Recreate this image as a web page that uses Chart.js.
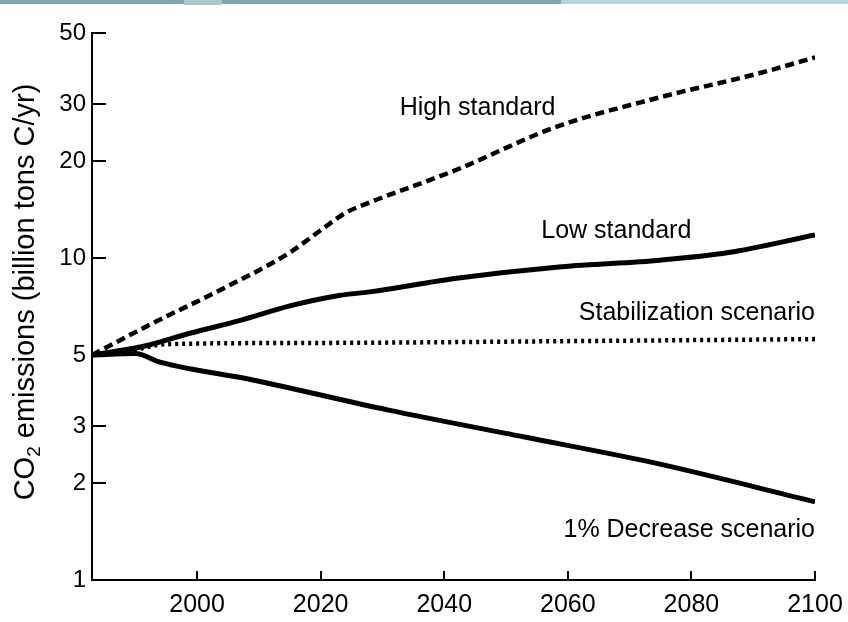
<!DOCTYPE html>
<html>
<head>
<meta charset="utf-8">
<title>CO2 emission scenarios</title>
<script src="https://cdn.jsdelivr.net/npm/chart.js@4.4.1/dist/chart.umd.min.js"></script>
<style>
  html, body { margin: 0; padding: 0; background: #ffffff; }
  #wrap { position: relative; width: 848px; height: 622px; overflow: hidden; }
  #bar-dark { position: absolute; left: 0; top: 0; width: 561px; height: 4px; background: #7aa9ad; z-index: 2; }
  #bar-light { position: absolute; left: 561px; top: 0; width: 287px; height: 4px; background: #b8d4d6; z-index: 2; }
  #bar-notch { position: absolute; left: 184px; top: 0; width: 38px; height: 5px; background: #a9c9cb; z-index: 3; }
  canvas { position: absolute; left: 0; top: 0; }
</style>
</head>
<body>
<div id="wrap">
  <div id="bar-dark"></div>
  <div id="bar-light"></div>
  <div id="bar-notch"></div>
  <canvas id="chart" width="848" height="622"></canvas>
</div>
<script>
// Emission scenarios, billion tons of carbon per year
const highYears = [1983, 1993, 2004, 2015, 2020, 2024, 2028, 2042, 2058, 2075, 2091, 2100];
const highValues = [5.0, 6.3, 8.0, 10.4, 12.2, 13.8, 14.9, 18.8, 25.5, 31.6, 37.5, 42.0];

const lowYears = [1983, 1991, 1999, 2007, 2015, 2023, 2028, 2042, 2059, 2075, 2086, 2100];
const lowValues = [5.0, 5.3, 5.85, 6.4, 7.1, 7.65, 7.85, 8.65, 9.4, 9.85, 10.4, 11.8];

const stabYears = [1983, 1990, 1995, 2020, 2060, 2100];
const stabValues = [5.0, 5.2, 5.4, 5.45, 5.52, 5.6];

const decYears = [1983, 1990, 1994, 2009, 2031, 2053, 2074, 2100];
const decValues = [5.0, 5.05, 4.75, 4.18, 3.37, 2.78, 2.31, 1.75];

const xTicks = [2000, 2020, 2040, 2060, 2080, 2100];
const yTicks = [1, 2, 3, 5, 10, 20, 30, 50];

const seriesNames = ['High standard', 'Low standard', 'Stabilization scenario', '1% Decrease scenario'];

const FONT = "'Liberation Sans', Arial, Helvetica, sans-serif";

function toPoints(xs, ys) {
  return xs.map((x, i) => ({ x: x, y: ys[i] }));
}

// Scenario names are written beside their curves, anchored in data space
const curveLabels = [
  { text: seriesNames[0], x: 2032.8, y: 29.2, align: 'left' },
  { text: seriesNames[1], x: 2055.7, y: 12.1, align: 'left' },
  { text: seriesNames[2], x: 2100, y: 6.75, align: 'right' },
  { text: seriesNames[3], x: 2100, y: 1.43, align: 'right' }
];

const curveLabelPlugin = {
  id: 'curveLabels',
  afterDatasetsDraw(chart) {
    const { ctx, scales } = chart;
    ctx.save();
    ctx.fillStyle = '#000';
    ctx.font = '25px ' + FONT;
    ctx.textBaseline = 'middle';
    curveLabels.forEach(l => {
      ctx.textAlign = l.align;
      ctx.fillText(l.text, scales.x.getPixelForValue(l.x), scales.y.getPixelForValue(l.y));
    });
    ctx.restore();
  }
};

// Vertical axis title with a real subscript in CO₂
const axisTitlePlugin = {
  id: 'axisTitle',
  afterDraw(chart) {
    const { ctx } = chart;
    const big = 29, small = 19;
    const parts = [
      { t: 'CO', size: big, dy: 0 },
      { t: '2', size: small, dy: 6 },
      { t: ' emissions (billion tons C/yr)', size: big, dy: 0 }
    ];
    ctx.save();
    let total = 0;
    parts.forEach(p => { ctx.font = p.size + 'px ' + FONT; p.w = ctx.measureText(p.t).width; total += p.w; });
    ctx.translate(34, 292);
    ctx.rotate(-Math.PI / 2);
    ctx.fillStyle = '#000';
    ctx.textBaseline = 'alphabetic';
    ctx.textAlign = 'left';
    let x = -total / 2;
    parts.forEach(p => {
      ctx.font = p.size + 'px ' + FONT;
      ctx.fillText(p.t, x, p.dy);
      x += p.w;
    });
    ctx.restore();
  }
};

// Tick marks point inward from the axis lines
const inwardTicksPlugin = {
  id: 'inwardTicks',
  afterDraw(chart) {
    const { ctx, scales, chartArea } = chart;
    ctx.save();
    ctx.strokeStyle = '#000';
    ctx.lineWidth = 2;
    scales.y.ticks.forEach(t => {
      const py = Math.round(scales.y.getPixelForValue(t.value));
      ctx.beginPath();
      ctx.moveTo(chartArea.left, py);
      ctx.lineTo(chartArea.left + 14, py);
      ctx.stroke();
    });
    scales.x.ticks.forEach(t => {
      const px = Math.round(scales.x.getPixelForValue(t.value));
      ctx.beginPath();
      ctx.moveTo(px, chartArea.bottom);
      ctx.lineTo(px, chartArea.bottom - 9);
      ctx.stroke();
    });
    ctx.restore();
  }
};

const common = {
  borderColor: '#000',
  backgroundColor: '#000',
  pointRadius: 0,
  fill: false,
  cubicInterpolationMode: 'monotone',
  borderCapStyle: 'butt'
};

new Chart(document.getElementById('chart'), {
  type: 'line',
  data: {
    datasets: [
      Object.assign({ label: seriesNames[0], data: toPoints(highYears, highValues), borderWidth: 4.5, borderDash: [9, 5] }, common),
      Object.assign({ label: seriesNames[1], data: toPoints(lowYears, lowValues), borderWidth: 5 }, common),
      Object.assign({ label: seriesNames[2], data: toPoints(stabYears, stabValues), borderWidth: 4.5, borderDash: [3, 4] }, common),
      Object.assign({ label: seriesNames[3], data: toPoints(decYears, decValues), borderWidth: 5 }, common)
    ]
  },
  options: {
    responsive: false,
    animation: false,
    devicePixelRatio: 1,
    layout: { padding: { top: 33, right: 33, left: 0, bottom: 0 } },
    plugins: {
      legend: { display: false },
      tooltip: { enabled: false }
    },
    scales: {
      x: {
        type: 'linear',
        min: 1983,
        max: 2100,
        afterBuildTicks(scale) { scale.ticks = xTicks.map(v => ({ value: v })); },
        afterFit(scale) { scale.height = 42; scale.paddingLeft = 0; scale.paddingRight = 0; },
        grid: { display: false, drawTicks: false },
        border: { display: true, color: '#000', width: 2 },
        ticks: {
          color: '#000',
          padding: 10,
          maxRotation: 0,
          font: { family: FONT, size: 25 },
          callback: v => String(v)
        }
      },
      y: {
        type: 'logarithmic',
        min: 1,
        max: 50,
        afterBuildTicks(scale) { scale.ticks = yTicks.map(v => ({ value: v })); },
        afterFit(scale) { scale.width = 92; scale.paddingTop = 0; scale.paddingBottom = 0; },
        grid: { display: false, drawTicks: false },
        border: { display: true, color: '#000', width: 2 },
        ticks: {
          color: '#000',
          padding: 6,
          font: { family: FONT, size: 24 },
          callback: v => String(v)
        },
        title: { display: false }
      }
    }
  },
  plugins: [curveLabelPlugin, axisTitlePlugin, inwardTicksPlugin]
});
</script>
</body>
</html>
